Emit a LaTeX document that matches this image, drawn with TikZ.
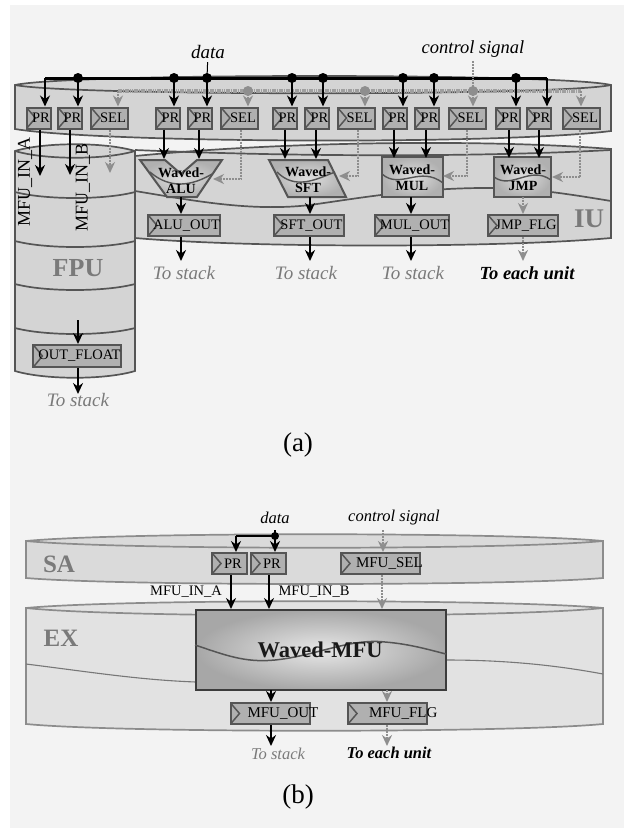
\documentclass[tikz,border=0pt]{standalone}
\usepackage{fontspec}
\setmainfont{Liberation Serif}
\usetikzlibrary{arrows.meta,calc}
\definecolor{bgc}{HTML}{F3F3F3}
\definecolor{cyl}{HTML}{D4D4D4}
\definecolor{cylb}{HTML}{E2E2E2}
\definecolor{edgec}{HTML}{555555}
\definecolor{regc}{HTML}{B0B0B0}
\definecolor{ctl}{HTML}{8E8E8E}
\definecolor{lbl}{HTML}{7A7A7A}
\tikzset{
 x=1pt,y=-1pt,
 cylline/.style={draw=edgec,line width=1.7pt},
 regbox/.style={draw=edgec,fill=regc,line width=2pt,inner sep=0pt,minimum height=#1,
   font=\fontsize{14.5}{15}\selectfont,text=black,
   path picture={\draw[edgec,line width=1.5pt]
     ($(path picture bounding box.north west)$) -- ($(path picture bounding box.west)+(9,0)$) -- ($(path picture bounding box.south west)$);}},
 regbox/.default=21pt,
 dataarrow/.style={-{Stealth[length=11pt,width=10pt]},line width=2pt,draw=black},
 ctlarrow/.style={-{Stealth[length=11pt,width=10pt]},line width=2.3pt,draw=ctl,dash pattern=on 2pt off 1pt},
 dot/.style={circle,fill=black,inner sep=0pt,minimum size=10pt},
 cdot/.style={circle,fill=ctl,inner sep=0pt,minimum size=10pt},
 ital/.style={font=\fontsize{19}{19}\selectfont\itshape,text=black},
 tostack/.style={font=\fontsize{19}{19}\selectfont\itshape,text=lbl},
 toeach/.style={font=\fontsize{18.5}{19}\selectfont\itshape\bfseries,text=black},
 biglabel/.style={font=\fontsize{#1}{#1}\selectfont\bfseries,text=lbl},
 sigtext/.style={font=\fontsize{#1}{#1}\selectfont,text=black},
 unittext/.style={font=\fontsize{14}{15}\selectfont\bfseries,text=black,align=center},
 unitfill/.style={draw=edgec,line width=2pt,inner color=regc!40,outer color=regc},
 capt/.style={font=\fontsize{27}{27}\selectfont,text=black},
}
\begin{document}
\begin{tikzpicture}
\useasboundingbox (0,0) rectangle (624,828);
\fill[white] (0,0) rectangle (624,828);
\fill[bgc] (10,5) rectangle (624,828);

% ---------- (a) SA cylinder
\path[cylline,fill=cyl] (15,85) -- (15,129) .. controls (100,143) and (500,145) .. (611,131) -- (611,85)
  .. controls (560,73) and (70,73) .. (15,85) -- cycle;
\draw[cylline] (15,85) .. controls (70,96) and (560,96) .. (611,85);
% ---------- IU cylinder
\path[cylline,fill=cyl] (135,156) .. controls (300,140) and (500,140) .. (611,149) -- (611,238)
  .. controls (500,248) and (250,248) .. (135,238) -- cycle;
\draw[cylline] (135,150) .. controls (300,157) and (480,157) .. (611,150);
\draw[cylline] (135,191) .. controls (190,200) and (250,212) .. (310,205) .. controls (360,198) and (420,187) .. (500,188) .. controls (540,189) and (580,196) .. (611,201);
% ---------- FPU cylinder
\path[cylline,fill=cyl] (15,151) -- (15,371) .. controls (45,380) and (105,380) .. (135,371) -- (135,151)
  .. controls (105,142) and (45,142) .. (15,151) -- cycle;
\draw[cylline] (15,151) .. controls (45,160) and (105,160) .. (135,151);
\foreach \yy in {192,241,284,328}{
  \draw[cylline] (15,\yy) .. controls (45,\yy+8) and (105,\yy+8) .. (135,\yy);
}

% ---------- (a) units
\path[unitfill] (140,160) -- (165,160) -- (181,174) -- (197,160) -- (222,160) -- (197,197) -- (167,197) -- cycle;
\path[unitfill] (269,160) -- (328,160) -- (346,197) -- (288,197) -- cycle;
\path[unitfill] (382,157) rectangle (443,197);
\path[unitfill] (494,157) rectangle (551,197);
\draw[edgec,line width=1.4pt] (150,172) .. controls (165,185) and (185,190) .. (212,174);
\draw[edgec,line width=1.4pt] (277,172) .. controls (295,190) and (315,180) .. (335,172);
\draw[edgec,line width=1.4pt] (382,174) .. controls (400,190) and (420,165) .. (443,183);
\draw[edgec,line width=1.4pt] (494,177) .. controls (512,190) and (530,165) .. (551,180);
\node[unittext] (alu) at (181,181) {Waved-\\[1pt]ALU};
\node[unittext] (sft) at (308,180) {Waved-\\[1pt]SFT};
\node[unittext] (mul) at (412,178) {Waved-\\[1pt]MUL};
\node[unittext] (jmp) at (523,178) {Waved-\\[1pt]JMP};

% ---------- (a) registers
\node[regbox,minimum width=24pt] (pra) at (38.5,118) {\hspace*{5pt}PR};
\node[regbox,minimum width=24pt] (prb) at (70,118) {\hspace*{5pt}PR};
\node[regbox,minimum width=37pt] (sa) at (109.5,118) {\hspace*{7pt}SEL};
\node[regbox,minimum width=24pt] (prc) at (168,118) {\hspace*{5pt}PR};
\node[regbox,minimum width=24pt] (prd) at (200,118) {\hspace*{5pt}PR};
\node[regbox,minimum width=37pt] (sb) at (239.5,118) {\hspace*{7pt}SEL};
\node[regbox,minimum width=24pt] (pre) at (285,118) {\hspace*{5pt}PR};
\node[regbox,minimum width=24pt] (prf) at (317,118) {\hspace*{5pt}PR};
\node[regbox,minimum width=37pt] (sc) at (356,118) {\hspace*{7pt}SEL};
\node[regbox,minimum width=24pt] (prg) at (395,118) {\hspace*{5pt}PR};
\node[regbox,minimum width=24pt] (prh) at (427,118) {\hspace*{5pt}PR};
\node[regbox,minimum width=37pt] (sd) at (467,118) {\hspace*{7pt}SEL};
\node[regbox,minimum width=24pt] (pri) at (507.5,118) {\hspace*{5pt}PR};
\node[regbox,minimum width=24pt] (prj) at (539,118) {\hspace*{5pt}PR};
\node[regbox,minimum width=37pt] (se) at (581.5,118) {\hspace*{7pt}SEL};
\node[regbox,minimum width=70pt] (oalu) at (184,225.5) {\hspace*{5pt}ALU\_OUT};
\node[regbox,minimum width=70pt] (osft) at (309,225.5) {\hspace*{5pt}SFT\_OUT};
\node[regbox,minimum width=70pt] (omul) at (412,225.5) {\hspace*{5pt}MUL\_OUT};
\node[regbox,minimum width=70pt] (ojmp) at (523,225.5) {\hspace*{6pt}JMP\_FLG};
\node[regbox=22pt,minimum width=86pt] (oflt) at (77,356) {\hspace*{5pt}OUT\_FLOAT};

% ---------- (a) labels
\node[ital] (data) at (208,52) {data};
\node[ital,font=\fontsize{18.5}{19}\selectfont\itshape] (ctrl) at (473,49) {control signal};
\node[sigtext=18,rotate=90] (ina) at (25,182) {MFU\_IN\_A};
\node[sigtext=18,rotate=90] (inb) at (83,187) {MFU\_IN\_B};
\node[biglabel=26] (fpu) at (78,268) {FPU};
\node[biglabel=27] (iu) at (589,219) {IU};
\node[tostack] (tsa) at (184,273) {To stack};
\node[tostack] (tsb) at (306,273) {To stack};
\node[tostack] (tsc) at (413,273) {To stack};
\node[toeach] (tea) at (527,273) {To each unit};
\node[tostack] (tsd) at (78,400) {To stack};
\node[capt] (capa) at (298,445) {(a)};

% ---------- (a) bus
\foreach \n/\x in {ba/45,bb/78,bc/174,bd/207,be/292,bf/323,bg/403,bh/434,bi/516,bj/547}{\coordinate (\n) at (\x,78);}
\foreach \n/\x in {ca/118,cb/248,cc/365,cd/473,ce/581}{\coordinate (\n) at (\x,91);}
\draw[line width=4.5pt,ctl!85!white,dash pattern=on 1.6pt off 0.7pt] (ca) -- (ce);
\draw[line width=3pt,black] (ba) -- (bj);
\draw[black,line width=1pt] (data) -- (bd);
\draw[line width=2.3pt,ctl,dash pattern=on 2pt off 1pt] (ctrl) -- (cd);
\foreach \n in {bb,bc,bd,be,bf,bg,bh,bi}{\node[dot] at (\n) {};}
\foreach \n in {cb,cc,cd}{\node[cdot] at (\n) {};}
\foreach \a/\r in {ba/pra,bb/prb,bc/prc,bd/prd,be/pre,bf/prf,bg/prg,bh/prh,bi/pri,bj/prj}{
  \draw[dataarrow] (\a) -- (\a |- \r.north);
}
\foreach \a/\r in {ca/sa,cb/sb,cc/sc,cd/sd,ce/se}{
  \draw[ctlarrow] (\a) -- (\a |- \r.north);
}
% register to unit
\coordinate (ea) at (40,176); \coordinate (eb) at (70,175); \coordinate (ec) at (110,173);
\draw[dataarrow] (pra.south -| ea) -- (ea);
\draw[dataarrow] (prb.south -| eb) -- (eb);
\draw[ctlarrow] (sa.south -| ec) -- (ec);
\foreach \r/\x/\yy in {prc/164/159,prd/199/159,pre/285/159,prf/316/159,prg/394/158,prh/426/158,pri/509/158,prj/539/158}{
  \coordinate (t\r) at (\x,\yy);
  \draw[dataarrow] (\r.south -| t\r) -- (t\r);
}
\coordinate (xa) at (241,179); \coordinate (xb) at (213,179);
\draw[ctlarrow] (sb.south -| xa) -- (xa) -- (xb);
\coordinate (xc) at (358,176); \coordinate (xd) at (339,176);
\draw[ctlarrow] (sc.south -| xc) -- (xc) -- (xd);
\coordinate (xe) at (467,176); \coordinate (xf) at (443,176);
\draw[ctlarrow] (sd.south -| xe) -- (xe) -- (xf);
\coordinate (xg) at (580,177); \coordinate (xh) at (552,177);
\draw[ctlarrow] (se.south -| xg) -- (xg) -- (xh);
% unit to out
\foreach \x/\o/\t in {181/oalu/tsa,310/osft/tsb,411/omul/tsc}{
  \coordinate (u) at (\x,197); \coordinate (v) at (\x,261);
  \draw[dataarrow] (u) -- (u |- \o.north);
  \draw[dataarrow] (u |- \o.south) -- (v);
}
\coordinate (u) at (523,197); \coordinate (v) at (523,261);
\draw[ctlarrow] (u) -- (u |- ojmp.north);
\draw[ctlarrow] (u |- ojmp.south) -- (v);
\coordinate (fa) at (78,320); \coordinate (fb) at (78,394);
\draw[dataarrow] (fa) -- (fa |- oflt.north);
\draw[dataarrow] (fa |- oflt.south) -- (fb);

% ---------- (b) SA
\path[cylline,draw=black!45,fill=cyl!85!white] (26,541) -- (26,578) .. controls (120,586) and (510,586) .. (603,578) -- (603,541)
  .. controls (510,532) and (120,532) .. (26,541) -- cycle;
\draw[cylline,draw=black!45] (26,541) .. controls (120,550) and (510,550) .. (603,541);
% ---------- (b) EX
\path[cylline,draw=black!45,fill=cylb] (26,608) -- (26,724) .. controls (120,733) and (510,733) .. (603,724) -- (603,608)
  .. controls (510,599) and (120,599) .. (26,608) -- cycle;
\draw[cylline,draw=black!45] (26,608) .. controls (120,618) and (510,618) .. (603,608);
\draw[edgec!80,line width=1.1pt] (26,664) .. controls (90,672) and (140,680) .. (196,682);
\draw[edgec!80,line width=1.1pt] (446,660) .. controls (510,660) and (560,666) .. (603,674);
\path[draw=edgec!70!black,line width=2pt,inner color=regc!30,outer color=regc!95!black] (196,610) rectangle (446,690);
\draw[edgec,line width=1.5pt] (195,645) .. controls (225,655) and (245,663) .. (275,660) .. controls (315,656) and (350,638) .. (385,642) .. controls (410,644) and (430,650) .. (446,654);
\node[font=\fontsize{22.5}{23}\selectfont\bfseries,text=black!90] (mfu) at (320,650) {Waved-MFU};

\node[regbox,minimum width=35pt] (pa) at (229.5,563.5) {\hspace*{7pt}PR};
\node[regbox,minimum width=35pt] (pb) at (268.5,563.5) {\hspace*{7pt}PR};
\node[regbox,minimum width=79pt,text width=79pt,align=left,font=\fontsize{15}{15}\selectfont] (msel) at (380.5,563.5) {\hspace*{15pt}MFU\_SEL};
\node[regbox,minimum width=79pt,text width=79pt,align=left,font=\fontsize{15}{15}\selectfont] (mout) at (270,713.5) {\hspace*{17pt}MFU\_OUT};
\node[regbox,minimum width=79pt,text width=79pt,align=left,font=\fontsize{15}{15}\selectfont] (mflg) at (387.5,713.5) {\hspace*{21pt}MFU\_FLG};

\node[font=\fontsize{16.5}{17}\selectfont\itshape,text=black] (datb) at (275,518) {data};
\node[font=\fontsize{16.5}{17}\selectfont\itshape,text=black] (ctlb) at (394,518) {control signal};
\node[sigtext=14.5] (ima) at (186,592) {MFU\_IN\_A};
\node[sigtext=14.5] (imb) at (314,592) {MFU\_IN\_B};
\node[biglabel=25] (lsa) at (59,564) {SA};
\node[biglabel=25] (lex) at (61,638) {EX};
\node[font=\fontsize{16.5}{17}\selectfont\itshape,text=lbl] (tsm) at (278,754) {To stack};
\node[font=\fontsize{16.5}{17}\selectfont\itshape\bfseries,text=black] (tem) at (389,753) {To each unit};
\node[capt] (capb) at (298,797) {(b)};

\coordinate (da) at (236,536); \coordinate (db) at (275,536); \coordinate (dt) at (275,530);
\draw[line width=2.4pt,black] (da) -- (db);
\draw[dataarrow] (da) -- (da |- pa.north);
\draw[dataarrow] (dt) -- (dt |- pb.north);
\node[dot,minimum size=8pt] at (db) {};
\coordinate (ct) at (383,530);
\draw[ctlarrow] (ct) -- (ct |- msel.north);
\coordinate (ga) at (231,609); \coordinate (gb) at (269,609); \coordinate (gc) at (382,609);
\draw[dataarrow] (pa.south -| ga) -- (ga);
\draw[dataarrow] (pb.south -| gb) -- (gb);
\draw[ctlarrow] (msel.south -| gc) -- (gc);
\coordinate (ha) at (271,690); \coordinate (hb) at (271,746);
\draw[dataarrow] (ha) -- (ha |- mout.north);
\draw[dataarrow] (ha |- mout.south) -- (hb);
\coordinate (hc) at (387,690); \coordinate (hd) at (387,746);
\draw[ctlarrow] (hc) -- (hc |- mflg.north);
\draw[ctlarrow] (hc |- mflg.south) -- (hd);
\end{tikzpicture}
\end{document}
